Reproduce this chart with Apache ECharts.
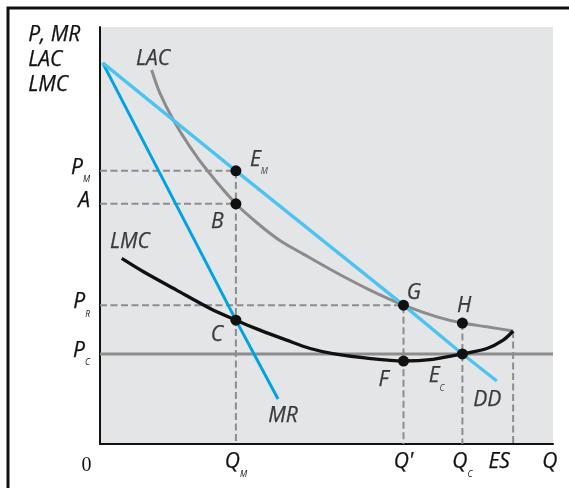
<!DOCTYPE html>
<html><head><meta charset="utf-8">
<script src="https://cdn.jsdelivr.net/npm/echarts@6/dist/echarts.min.js"></script>
<style>html,body{margin:0;padding:0;background:#fff}#c{width:569px;height:488px}</style>
</head><body><div id="c"></div>
<script>
// ---- data ----
const demandQ = [0.6, 30, 67, 80, 87.6];
const demandP = [91.4, 65.5, 33.3, 21.6, 15.1];
const mrQ = [0.6, 30, 39.3];
const mrP = [91.4, 29.7, 10.8];
const lacQ = [11.4, 13.2, 16.1, 19.9, 23.6, 30, 34.7, 39.7, 44.8, 52.3, 59.6, 67, 74.4, 80, 85.4, 91.2];
const lacP = [89.7, 84.2, 77.9, 71.2, 65.7, 57.6, 53.0, 48.8, 45.6, 41.0, 36.9, 33.3, 30.5, 29.0, 28.1, 27.1];
const lmcQ = [4.8, 9.6, 16.9, 24.3, 30, 35.3, 41.2, 46.4, 51.4, 58.9, 67, 73.5, 80, 85.4, 89.0, 91.2];
const lmcP = [44.5, 41.3, 36.9, 32.5, 29.7, 27.3, 24.9, 22.9, 21.7, 20.6, 19.9, 20.3, 21.6, 22.9, 24.9, 27.1];

const pointNames = ['E_M', 'B', 'C', 'G', 'H', 'F', 'E_C'];
const pointQ = [30, 30, 30, 67, 80, 67, 80];
const pointP = [65.5, 57.6, 29.7, 33.3, 29.0, 19.9, 21.6];

const esQ = 91.2, esP = 27.1;   // end of LAC / LMC (efficient scale)

const yTickValues = [65.5, 57.6, 33.3, 21.6];
const yTickLabels = ['{m|P}{s|M}', '{m|A}', '{m|P}{s|R}', '{m|P}{s|C}'];
const xTickValues = [0, 30, 67, 80, 91.2, 99.3];
const xTickLabels = ['{z|0}', '{m|Q}{s|M}', "{m|Q'}", '{m|Q}{s|C}', '{es|ES}', '{m|Q}'];

const curveLabelTexts = ['{m|LAC}', '{m|LMC}', '{m|E}{s|M}', '{m|B}', '{m|C}', '{m|MR}', '{m|G}', '{m|H}', '{m|F}', '{m|E}{s|C}', '{m|DD}'];
const curveLabelQ = [11.7, 6.6, 35.1, 25.9, 25.8, 40.4, 69.3, 80.4, 62.6, 74.3, 85.5];
const curveLabelP = [91.7, 47.8, 67.4, 52.6, 25.5, 5.9, 35.5, 32.3, 14.6, 15.5, 9.8];

// ---- styling ----
const FONT = '"Open Sans","Noto Sans",sans-serif';
const INK = '#111111';
const GRAY = '#8d8d8d';
const main = {fontFamily: FONT, fontStyle: 'italic', fontSize: 21, lineHeight: 27, verticalAlign: 'top', color: INK, textBorderColor: INK, textBorderWidth: 0.25};
const rich = {
  m: main,
  s: {fontFamily: FONT, fontStyle: 'italic', fontSize: 8.5, lineHeight: 8, verticalAlign: 'bottom', color: INK},
  z: {fontFamily: '"Liberation Serif","DejaVu Serif",serif', fontSize: 20, lineHeight: 27, verticalAlign: 'middle', color: INK, padding: [0, 27, 0, 0]},
  es: Object.assign({}, main, {padding: [0, 28, 0, 0]})
};

const zip = (a, b) => a.map((v, i) => [v, b[i]]);
const idx = n => pointNames.indexOf(n);
const pt = n => [pointQ[idx(n)], pointP[idx(n)]];

const dashStyle = {color: GRAY, width: 2, type: [7, 3.5]};
function dashed(data) {
  return {type: 'line', data: data, symbol: 'none', lineStyle: dashStyle, silent: true, z: 1};
}
const dashedSeries = [
  dashed([[0, pt('E_M')[1]], pt('E_M'), [pt('E_M')[0], 0]]),
  dashed([[0, pt('B')[1]], pt('B')]),
  dashed([[0, pt('G')[1]], pt('G'), [pt('G')[0], 0]]),
  dashed([pt('H'), [pt('H')[0], 0]]),
  dashed([[esQ, esP], [esQ, 0]])
];

const chart = echarts.init(document.getElementById('c'), null, {renderer: 'canvas'});
chart.setOption({
  animation: false,
  backgroundColor: '#ffffff',
  grid: {left: 100, right: 16, top: 27, bottom: 44, show: true, backgroundColor: '#e4e5e7', borderWidth: 0, containLabel: false, outerBoundsMode: 'none'},
  xAxis: {
    type: 'value', min: 0, max: 100,
    axisLine: {show: true, onZero: false, lineStyle: {color: INK, width: 2}},
    axisTick: {show: false}, splitLine: {show: false},
    axisLabel: {
      customValues: xTickValues, margin: 8, rich: rich, color: INK, hideOverlap: false,
      formatter: v => xTickLabels[xTickValues.indexOf(v)] || ''
    }
  },
  yAxis: {
    type: 'value', min: 0, max: 100,
    axisLine: {show: true, onZero: false, lineStyle: {color: INK, width: 2}},
    axisTick: {show: false}, splitLine: {show: false},
    axisLabel: {
      customValues: yTickValues, margin: 10, rich: rich, color: INK, hideOverlap: false,
      formatter: v => yTickLabels[yTickValues.indexOf(v)] || ''
    }
  },
  graphic: [
    {type: 'polyline', shape: {points: [[8, 560], [8, 8], [640, 8]]}, style: {stroke: INK, lineWidth: 3, fill: null}, z: 100},
    {type: 'text', left: 28, top: 23, style: {text: 'P, MR\nLAC\nLMC', fontFamily: FONT, fontStyle: 'italic', fontSize: 21, lineHeight: 25, fill: INK, stroke: INK, lineWidth: 0.25}}
  ],
  series: [
    {type: 'line', data: [[0, pt('E_C')[1]], [100, pt('E_C')[1]]], symbol: 'none', lineStyle: {color: GRAY, width: 3}, z: 1},
    ...dashedSeries,
    {name: 'LAC', type: 'line', data: zip(lacQ, lacP), symbol: 'none', smooth: 0.3, lineStyle: {color: '#8c8c8c', width: 3}, z: 2},
    {name: 'LMC', type: 'line', data: zip(lmcQ, lmcP), symbol: 'none', smooth: 0.3, lineStyle: {color: INK, width: 3.3}, z: 2},
    {name: 'MR', type: 'line', data: zip(mrQ, mrP), symbol: 'none', lineStyle: {color: '#00a3e2', width: 3}, z: 3},
    {name: 'DD', type: 'line', data: zip(demandQ, demandP), symbol: 'none', lineStyle: {color: '#4dc4f0', width: 3.3}, z: 3},
    {type: 'scatter', data: zip(pointQ, pointP), symbol: 'circle', symbolSize: 11, itemStyle: {color: INK, opacity: 1, borderWidth: 0}, z: 5},
    {type: 'scatter', data: curveLabelQ.map((q, i) => ({value: [q, curveLabelP[i]], name: curveLabelTexts[i]})),
      symbolSize: 1, itemStyle: {color: 'rgba(0,0,0,0)'}, silent: true, z: 6,
      label: {show: true, position: 'inside', color: INK, formatter: p => p.name, rich: rich}}
  ]
});
</script></body></html>
